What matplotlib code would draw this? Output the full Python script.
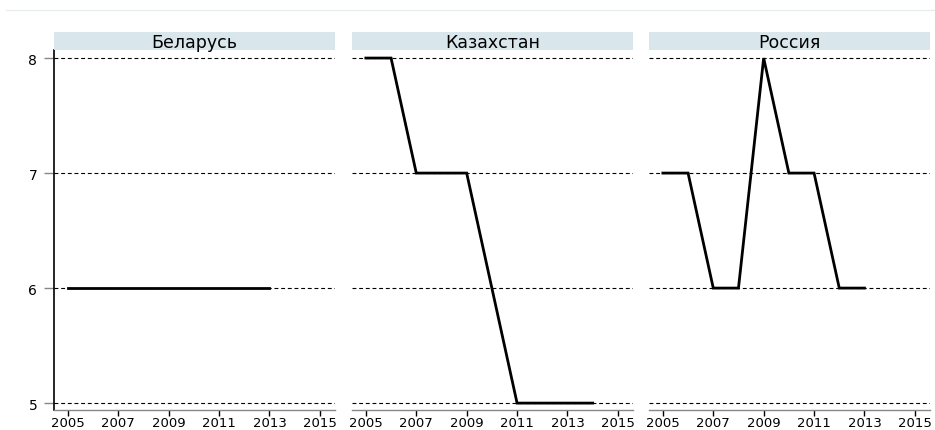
import matplotlib
matplotlib.use("Agg")
import matplotlib.pyplot as plt
from matplotlib.lines import Line2D

countries = ["Беларусь", "Казахстан", "Россия"]
years_by = {
    "Беларусь": [2005, 2006, 2007, 2008, 2009, 2010, 2011, 2012, 2013],
    "Казахстан": [2005, 2006, 2007, 2008, 2009, 2010, 2011, 2012, 2013, 2014],
    "Россия": [2005, 2006, 2007, 2008, 2009, 2010, 2011, 2012, 2013],
}
values_by = {
    "Беларусь": [6, 6, 6, 6, 6, 6, 6, 6, 6],
    "Казахстан": [8, 8, 7, 7, 7, 6, 5, 5, 5, 5],
    "Россия": [7, 7, 6, 6, 8, 7, 7, 6, 6],
}
xticks = [2005, 2007, 2009, 2011, 2013, 2015]
yticks = [5, 6, 7, 8]

plt.rcParams['font.family'] = ['DejaVu Sans']
fig = plt.figure(figsize=(9.35, 4.31), dpi=100)

lefts = [54, 352, 649]
W, H = 935, 431
pw = 281
ax_bottom = 1 - 411 / H
ax_top = 1 - 51 / H
strip_top = 1 - 33 / H

# faint top rule
fig.add_artist(Line2D([6 / W, 1.0], [1 - 10.5 / H, 1 - 10.5 / H],
                      color='#e8eeee', lw=1.0, transform=fig.transFigure))

for i, c in enumerate(countries):
    left = lefts[i] / W
    ax = fig.add_axes([left, ax_bottom, pw / W, ax_top - ax_bottom])
    ax.set_xlim(2004.45, 2015.6)
    ax.set_ylim(4.94, 8.07)
    for y in yticks:
        ax.axhline(y, color='black', lw=0.8, ls=(0, (3.5, 2.5)), zorder=1)
    ax.plot(years_by[c], values_by[c], color='black', lw=2.0, zorder=3,
            solid_joinstyle='miter')
    for s in ['top', 'right']:
        ax.spines[s].set_visible(False)
    ax.spines['bottom'].set_color('#888888')
    ax.spines['bottom'].set_linewidth(1.0)
    ax.set_xticks(xticks)
    ax.set_xticklabels([str(x) for x in xticks], fontsize=9.5)
    ax.tick_params(axis='x', color='black', length=4, width=1, pad=0.5)
    if i == 0:
        ax.spines['left'].set_color('black')
        ax.spines['left'].set_linewidth(1.2)
        ax.set_yticks(yticks)
        ax.set_yticklabels([str(y) for y in yticks], fontsize=10)
        ax.tick_params(axis='y', color='#888888', length=7, width=1, pad=5)
    else:
        ax.spines['left'].set_visible(False)
        ax.set_yticks([])
    # strip
    sax = fig.add_axes([left, ax_top, pw / W, strip_top - ax_top])
    sax.set_facecolor('#d9e6ec')
    for s in sax.spines.values():
        s.set_visible(False)
    sax.set_xticks([])
    sax.set_yticks([])
    sax.text(0.5, 0.47, c, ha='center', va='center', fontsize=12.5,
             transform=sax.transAxes)

fig.savefig("out.png", dpi=100)
